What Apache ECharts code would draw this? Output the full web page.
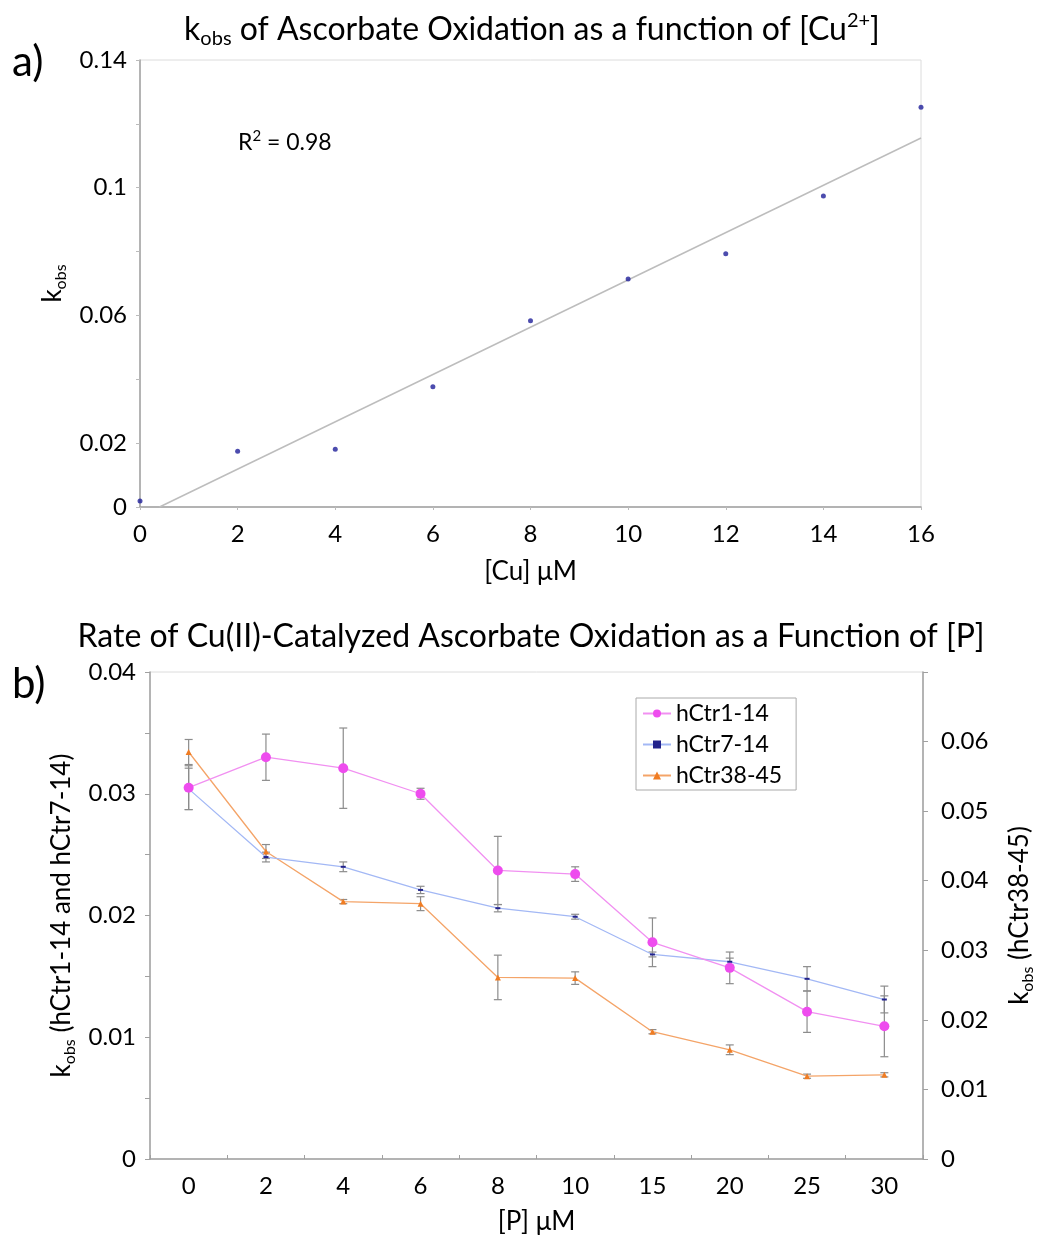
<!DOCTYPE html>
<html><head><meta charset="utf-8">
<script src="https://cdn.jsdelivr.net/npm/echarts@6/dist/echarts.min.js"></script>
<style>html,body{margin:0;padding:0;background:#fff}#c{width:1039px;height:1238px}</style>
</head><body><div id="c"></div>
<script>
// ---- Panel a data ----
const cuConc = [0, 2, 4, 6, 8, 10, 12, 14, 16];
const kobsCu = [0.0019, 0.0175, 0.0181, 0.0377, 0.0583, 0.0714, 0.0793, 0.0974, 0.1252];
const aYTickLabels = [0, 0.02, 0.06, 0.1, 0.14];
// ---- Panel b data ----
const pConc = ['0', '2', '4', '6', '8', '10', '15', '20', '25', '30'];
const hCtr1_14 = [0.0305, 0.0330, 0.0321, 0.0300, 0.0237, 0.0234, 0.0178, 0.0157, 0.0121, 0.0109];
const hCtr1_14Err = [0.0018, 0.0019, 0.0033, 0.00045, 0.0028, 0.0006, 0.0020, 0.0013, 0.0017, 0.0025];
const hCtr7_14 = [0.0304, 0.0248, 0.0240, 0.0221, 0.0206, 0.0199, 0.0168, 0.0162, 0.0148, 0.0131];
const hCtr7_14Err = [0.0017, 0.0004, 0.0004, 0.0003, 0.0003, 0.0002, 0.0002, 0.0003, 0.0010, 0.0011];
const hCtr38_45 = [0.0585, 0.0442, 0.0370, 0.0367, 0.0261, 0.0260, 0.0183, 0.0157, 0.0119, 0.0121];
const hCtr38_45Err = [0.0018, 0.0010, 0.0003, 0.0010, 0.0032, 0.0009, 0.0003, 0.0007, 0.0003, 0.0003];
const bLeftTickLabels = [0, 0.01, 0.02, 0.03, 0.04];
const bRightTickLabels = [0, 0.01, 0.02, 0.03, 0.04, 0.05, 0.06];

const FONT = 'Lato';
// least-squares trend line for panel a
const n = cuConc.length;
const mx = cuConc.reduce((a, b) => a + b, 0) / n;
const my = kobsCu.reduce((a, b) => a + b, 0) / n;
let sxy = 0, sxx = 0;
for (let i = 0; i < n; i++) { sxy += (cuConc[i] - mx) * (kobsCu[i] - my); sxx += (cuConc[i] - mx) ** 2; }
const slope = sxy / sxx, icpt = my - slope * mx;
const xStart = -icpt / slope, xEnd = cuConc[n - 1];
const trend = [[xStart, 0], [xEnd, slope * xEnd + icpt]];

function fmtPick(list) {
  return function (v) {
    const r = Math.round(v * 10000) / 10000;
    return list.some(t => Math.abs(t - r) < 1e-9) ? String(r) : '';
  };
}
function errRender(params, api) {
  const x = api.value(0), v = api.value(1), e = api.value(2);
  const hi = api.coord([x, v + e]), lo = api.coord([x, v - e]);
  const w = 4;
  const style = { stroke: '#8c8c8c', lineWidth: 1.2 };
  return { type: 'group', children: [
    { type: 'line', shape: { x1: hi[0], y1: hi[1], x2: lo[0], y2: lo[1] }, style },
    { type: 'line', shape: { x1: hi[0] - w, y1: hi[1], x2: hi[0] + w, y2: hi[1] }, style },
    { type: 'line', shape: { x1: lo[0] - w, y1: lo[1], x2: lo[0] + w, y2: lo[1] }, style }
  ] };
}
const errData = (vals, errs) => vals.map((v, i) => [i, v, errs[i]]);

const axisLineStyle = { lineStyle: { color: '#a0a0a0', width: 1.5 } };
const labelStyle = { color: '#000', fontFamily: FONT, fontSize: 24 };
const richKobs = {
  m: { fontFamily: FONT, fontSize: 26, color: '#000', lineHeight: 32, verticalAlign: 'middle' },
  s: { fontFamily: FONT, fontSize: 16, color: '#000', lineHeight: 16, verticalAlign: 'bottom' }
};

const chart = echarts.init(document.getElementById('c'));
chart.setOption({
  animation: false,
  backgroundColor: '#fff',
  grid: [
    { left: 140, top: 60, width: 781, height: 447, show: true, borderColor: '#dcdcdc', borderWidth: 1,
      containLabel: false, outerBoundsMode: 'none' },
    { left: 150, top: 672, width: 773, height: 487, show: true, borderColor: '#dcdcdc', borderWidth: 1,
      containLabel: false, outerBoundsMode: 'none' }
  ],
  xAxis: [
    { gridIndex: 0, type: 'value', min: 0, max: 16, interval: 2,
      name: '[Cu] μM', nameLocation: 'middle', nameGap: 52,
      nameTextStyle: { fontFamily: FONT, fontSize: 26, color: '#000' },
      axisLine: axisLineStyle, axisTick: { show: true, length: 3, lineStyle: { color: '#bbb' } },
      axisLabel: Object.assign({ margin: 15 }, labelStyle), splitLine: { show: false } },
    { gridIndex: 1, type: 'category', data: pConc, boundaryGap: true,
      name: '[P] μM', nameLocation: 'middle', nameGap: 50,
      nameTextStyle: { fontFamily: FONT, fontSize: 26, color: '#000' },
      axisLine: axisLineStyle, axisTick: { show: true, inside: true, length: 4, lineStyle: { color: '#a0a0a0' } },
      axisLabel: Object.assign({ margin: 15 }, labelStyle), splitLine: { show: false } }
  ],
  yAxis: [
    { gridIndex: 0, type: 'value', min: 0, max: 0.14, interval: 0.02,
      name: '{m|k}{s|obs}', nameLocation: 'middle', nameGap: 70,
      nameTextStyle: { rich: richKobs },
      axisLine: { show: true, lineStyle: { color: '#a0a0a0', width: 1.5 } },
      axisTick: { show: true, length: 4, lineStyle: { color: '#bbb' } },
      axisLabel: Object.assign({ margin: 13, formatter: fmtPick(aYTickLabels) }, labelStyle),
      splitLine: { show: false } },
    { gridIndex: 1, type: 'value', position: 'left', min: 0, max: 0.04, interval: 0.005,
      name: '{m|k}{s|obs}{m| (hCtr1-14 and hCtr7-14)}', nameLocation: 'middle', nameGap: 58,
      nameTextStyle: { rich: richKobs },
      axisLine: { show: true, lineStyle: { color: '#a0a0a0', width: 1.5 } },
      axisTick: { show: true, length: 5, lineStyle: { color: '#a0a0a0' } },
      axisLabel: Object.assign({ margin: 14, formatter: fmtPick(bLeftTickLabels) }, labelStyle),
      splitLine: { show: false } },
    { gridIndex: 1, type: 'value', position: 'right', min: 0, max: 0.07, interval: 0.01,
      name: '{m|k}{s|obs}{m| (hCtr38-45)}', nameLocation: 'middle', nameGap: 81,
      nameTextStyle: { rich: richKobs },
      axisLine: { show: true, lineStyle: { color: '#a0a0a0', width: 1.5 } },
      axisTick: { show: true, length: 5, lineStyle: { color: '#a0a0a0' } },
      axisLabel: Object.assign({ margin: 18, formatter: fmtPick(bRightTickLabels) }, labelStyle),
      splitLine: { show: false } }
  ],
  legend: {
    left: 636, top: 698, orient: 'vertical',
    data: ['hCtr1-14', 'hCtr7-14', 'hCtr38-45'],
    backgroundColor: '#fff', borderColor: '#aaa', borderWidth: 1,
    padding: [4, 14, 3, 6], itemWidth: 28, itemHeight: 10, itemGap: 8,
    textStyle: { fontFamily: FONT, fontSize: 23, color: '#000' }
  },
  graphic: [
    { type: 'text', x: 532, y: 30, style: {
        text: '{m|k}{s|obs}{m| of Ascorbate Oxidation as a function of [Cu}{p|2+}{m|]}',
        align: 'center', verticalAlign: 'middle',
        rich: {
          m: { fontFamily: FONT, fontSize: 32, fill: '#000', lineHeight: 38, verticalAlign: 'middle' },
          s: { fontFamily: FONT, fontSize: 20, fill: '#000', lineHeight: 20, verticalAlign: 'bottom' },
          p: { fontFamily: FONT, fontSize: 20, fill: '#000', lineHeight: 20, verticalAlign: 'top' }
        } } },
    { type: 'text', x: 12, y: 62, style: { text: 'a)', font: '42px ' + FONT, fill: '#000', verticalAlign: 'middle' } },
    { type: 'text', x: 238, y: 143, style: {
        text: '{m|R}{p|2}{m| = 0.98}', verticalAlign: 'middle',
        rich: {
          m: { fontFamily: FONT, fontSize: 23, fill: '#000', lineHeight: 28, verticalAlign: 'middle' },
          p: { fontFamily: FONT, fontSize: 15, fill: '#000', lineHeight: 15, verticalAlign: 'top' }
        } } },
    { type: 'text', x: 531, y: 637, style: {
        text: 'Rate of Cu(II)-Catalyzed Ascorbate Oxidation as a Function of [P]',
        align: 'center', verticalAlign: 'middle', font: '32px ' + FONT, fill: '#000' } },
    { type: 'text', x: 12, y: 684, style: { text: 'b)', font: '42px ' + FONT, fill: '#000', verticalAlign: 'middle' } }
  ],
  series: [
    { type: 'line', xAxisIndex: 0, yAxisIndex: 0, data: trend, showSymbol: false, symbol: 'none',
      lineStyle: { color: '#bdbdbd', width: 1.5 }, silent: true, z: 1 },
    { type: 'scatter', xAxisIndex: 0, yAxisIndex: 0, data: cuConc.map((x, i) => [x, kobsCu[i]]),
      symbol: 'circle', symbolSize: 5, itemStyle: { color: '#1f1f9a' }, z: 3 },

    { type: 'custom', xAxisIndex: 1, yAxisIndex: 1, renderItem: errRender, data: errData(hCtr1_14, hCtr1_14Err),
      encode: { x: 0, y: 1 }, z: 1, silent: true },
    { type: 'custom', xAxisIndex: 1, yAxisIndex: 1, renderItem: errRender, data: errData(hCtr7_14, hCtr7_14Err),
      encode: { x: 0, y: 1 }, z: 1, silent: true },
    { type: 'custom', xAxisIndex: 1, yAxisIndex: 2, renderItem: errRender, data: errData(hCtr38_45, hCtr38_45Err),
      encode: { x: 0, y: 1 }, z: 1, silent: true },

    { name: 'hCtr38-45', type: 'line', xAxisIndex: 1, yAxisIndex: 2, data: hCtr38_45,
      symbol: 'triangle', symbolSize: 6, showAllSymbol: true,
      lineStyle: { color: '#f4a468', width: 1.3 }, itemStyle: { color: '#f07c22' }, z: 3 },
    { name: 'hCtr7-14', type: 'line', xAxisIndex: 1, yAxisIndex: 1, data: hCtr7_14,
      symbol: 'rect', symbolSize: [5, 2], showAllSymbol: true,
      lineStyle: { color: '#a3b8f5', width: 1.3 }, itemStyle: { color: '#22228c' }, z: 3 },
    { name: 'hCtr1-14', type: 'line', xAxisIndex: 1, yAxisIndex: 1, data: hCtr1_14,
      symbol: 'circle', symbolSize: 10, showAllSymbol: true,
      lineStyle: { color: '#f190f1', width: 1.3 }, itemStyle: { color: '#ee4cee' }, z: 4 }
  ]
});
</script></body></html>
